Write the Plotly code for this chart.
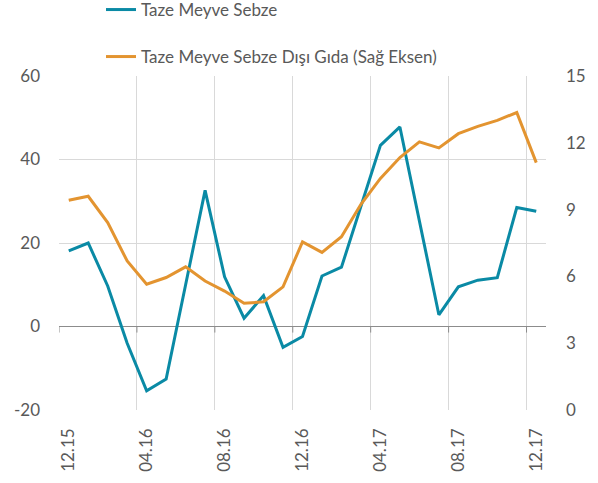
import plotly.graph_objects as go

months = ["12.15","01.16","02.16","03.16","04.16","05.16","06.16","07.16","08.16","09.16","10.16","11.16",
          "12.16","01.17","02.17","03.17","04.17","05.17","06.17","07.17","08.17","09.17","10.17","11.17","12.17"]
taze = [18.1, 20.0, 9.7, -4.0, -15.4, -12.6, 10.0, 32.6, 11.9, 2.0, 7.4, -5.0,
        -2.4, 12.1, 14.2, 28.7, 43.4, 47.8, 25.1, 2.8, 9.5, 11.1, 11.7, 28.5, 27.6]
disi = [9.42, 9.6, 8.42, 6.69, 5.65, 5.95, 6.43, 5.79, 5.34, 4.79, 4.86, 5.53,
        7.55, 7.08, 7.78, 9.24, 10.4, 11.34, 12.04, 11.77, 12.41, 12.74, 13.01, 13.36, 11.11]
label_step = 4
left_ticks = [-20, 0, 20, 40, 60]
right_ticks = [0, 3, 6, 9, 12, 15]

BLUE = "#0a8aa5"
ORANGE = "#e39430"
GRID = "#d9d9d9"
TXT = "#595959"
FONT = "Lato"

W, H = 598, 483
ML, MR, MT, MB = 59, 52, 76, 73
PW = W - ML - MR
PH = H - MT - MB

idx = list(range(len(months)))
fig = go.Figure()
fig.add_trace(go.Scatter(x=idx, y=taze, mode="lines", name="Taze Meyve Sebze",
                         line=dict(color=BLUE, width=3), legend="legend"))
fig.add_trace(go.Scatter(x=idx, y=disi, mode="lines", name="Taze Meyve Sebze Dışı Gıda (Sağ Eksen)",
                         line=dict(color=ORANGE, width=3), yaxis="y2", legend="legend2"))

tickpos = idx[::label_step]
boundaries = [i - 0.5 for i in tickpos]
shapes = [dict(type="line", xref="x", yref="y", x0=b, x1=b, y0=0, y1=-1.45,
               line=dict(color="#8c8c8c", width=1)) for b in boundaries]

leg_x = (101 - ML) / PW
leg_common = dict(xref="paper", yref="paper", xanchor="left", yanchor="middle",
                  orientation="h", font=dict(family=FONT, size=17, color=TXT),
                  bgcolor="rgba(0,0,0,0)")
fig.update_layout(
    width=W, height=H,
    margin=dict(l=ML, r=MR, t=MT, b=MB, autoexpand=False),
    paper_bgcolor="white", plot_bgcolor="white",
    font=dict(family=FONT, size=17, color=TXT),
    showlegend=True,
    legend=dict(x=leg_x, y=1 + (MT - 10) / PH, **leg_common),
    legend2=dict(x=leg_x, y=1 + (MT - 57) / PH, **leg_common),
    xaxis=dict(range=[-0.5, len(months) - 0.5], tickmode="array", tickvals=tickpos,
               ticktext=[months[i] for i in tickpos], tickangle=-90, showgrid=False,
               zeroline=False, showline=False, ticks="", ticklabelstandoff=14, automargin=False,
               minor=dict(tick0=-0.5, dtick=label_step, showgrid=True, gridcolor=GRID, gridwidth=1),
               tickfont=dict(size=17, color=TXT)),
    yaxis=dict(range=[-20, 60], tickmode="array", tickvals=left_ticks,
               ticktext=[str(v) for v in left_ticks], showgrid=True, gridcolor=GRID,
               zeroline=True, zerolinecolor="#8c8c8c", zerolinewidth=1, showline=False, ticks="",
               ticklabelstandoff=18, automargin=False, tickfont=dict(size=17, color=TXT)),
    yaxis2=dict(range=[0, 15], tickmode="array", tickvals=right_ticks, overlaying="y", side="right",
                showgrid=False, zeroline=False, showline=False, ticks="", ticklabelstandoff=19,
                automargin=False, tickfont=dict(size=17, color=TXT)),
    shapes=shapes,
)
fig.write_html("out.html", config={"displayModeBar": False},
               post_script="document.body.style.margin='0';")
